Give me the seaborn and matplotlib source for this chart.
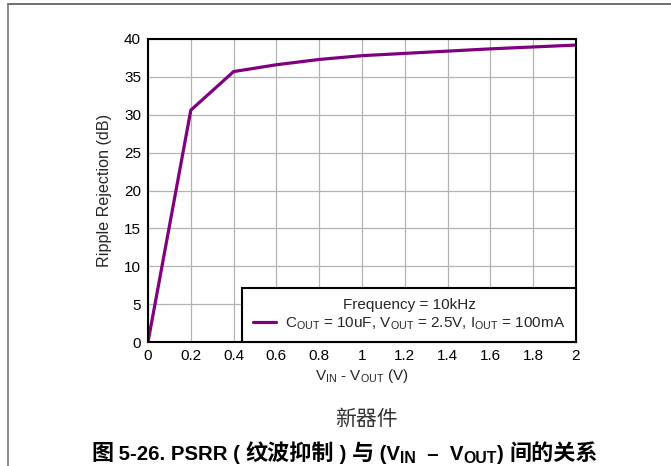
import matplotlib
matplotlib.use("Agg")
import matplotlib.pyplot as plt
from matplotlib.lines import Line2D
import seaborn as sns
import pandas as pd

# Ripple rejection vs headroom voltage
headroom_v = [0.0, 0.2, 0.4, 0.6, 0.8, 1.0, 1.2, 1.4, 1.6, 1.8, 2.0]
rejection_db = [0.0, 30.6, 35.7, 36.6, 37.3, 37.8, 38.1, 38.4, 38.7, 38.95, 39.2]
x_ticks = [0, 0.2, 0.4, 0.6, 0.8, 1, 1.2, 1.4, 1.6, 1.8, 2]
x_tick_labels = ["0", "0.2", "0.4", "0.6", "0.8", "1", "1.2", "1.4", "1.6", "1.8", "2"]
y_ticks = [0, 5, 10, 15, 20, 25, 30, 35, 40]

sns.set_theme(style="white")
LATIN_CJK = ['Liberation Sans', 'Noto Sans CJK SC', 'DejaVu Sans']
plt.rcParams['font.family'] = LATIN_CJK
plt.rcParams['mathtext.fontset'] = 'custom'
plt.rcParams['mathtext.rm'] = 'Liberation Sans'
plt.rcParams['mathtext.it'] = 'Liberation Sans'

df = pd.DataFrame({"v": headroom_v, "db": rejection_db})

W, H = 671, 466
fig = plt.figure(figsize=(W / 100, H / 100), dpi=100)
ax = fig.add_axes([148 / W, 1 - 342 / H, 428 / W, 303 / H])

sns.lineplot(data=df, x="v", y="db", ax=ax, color="#800080", linewidth=2.3)

ax.set_xlim(0, 2)
ax.set_ylim(0, 40)
ax.set_xticks(x_ticks)
ax.set_xticklabels(x_tick_labels)
ax.set_yticks(y_ticks)
ax.tick_params(axis="both", labelsize=11, colors="black", length=0, pad=5)
ax.grid(True, color="#b4b4b4", linewidth=0.9)
for s in ax.spines.values():
    s.set_color("black")
    s.set_linewidth(1.5)

ax.set_xlabel(r"V$_{\mathregular{IN}}$ - V$_{\mathregular{OUT}}$ (V)", fontsize=11, labelpad=3)
ax.set_ylabel("Ripple Rejection (dB)", fontsize=11.6, labelpad=9)

handle = Line2D([], [], color="#800080", linewidth=2.3)
leg = ax.legend([handle],
                [r"C$_{\mathregular{OUT}}$ = 10uF, V$_{\mathregular{OUT}}$ = 2.5V, I$_{\mathregular{OUT}}$ = 100mA"],
                title="Frequency = 10kHz", loc="lower right", bbox_to_anchor=(1.0, 0.0),
                fontsize=11, title_fontsize=11, frameon=True, fancybox=False,
                borderaxespad=0, handlelength=1.5, handletextpad=0.65, borderpad=0.68,
                labelspacing=0.2)
leg.get_frame().set_edgecolor("black")
leg.get_frame().set_linewidth(1.5)
leg.get_frame().set_alpha(1)

# page border lines
fig.add_artist(Line2D([8 / W, 1], [1 - 4 / H, 1 - 4 / H], color="#555555", linewidth=1.2))
fig.add_artist(Line2D([8 / W, 8 / W], [1 - 4 / H, 0], color="#777777", linewidth=1.2))

fig.text(366 / W, 1 - 419 / H, "新器件", ha="center", va="center", fontsize=15,
         color="#333333", family=['Noto Sans CJK SC', 'DejaVu Sans'])

# caption assembled piece by piece: Latin, CJK and subscript runs share one baseline
# kind: "L" latin run, "C" CJK run, "S" subscript
caption_parts = [("图", "C"), (" 5-26. PSRR ( ", "L"), ("纹波抑制", "C"), (" ) ", "L"),
                 ("与", "C"), (" (V", "L"), ("IN", "S"), ("  –  V", "L"), ("OUT", "S"),
                 (") ", "L"), ("间的关系", "C")]
sizes = {"L": 14.7, "C": 15.9, "S": 11.4}
renderer = fig.canvas.get_renderer()
base_y = 1 - 460 / H
sub_dy = 3 / H
x = 91 / W
for txt, kind in caption_parts:
    t = fig.text(x, base_y - (sub_dy if kind == "S" else 0), txt, ha="left", va="baseline",
                 fontsize=sizes[kind], fontweight="bold", color="black", family=LATIN_CJK)
    bb = t.get_window_extent(renderer)
    x = bb.x1 / W

fig.savefig("out.png", dpi=100)
